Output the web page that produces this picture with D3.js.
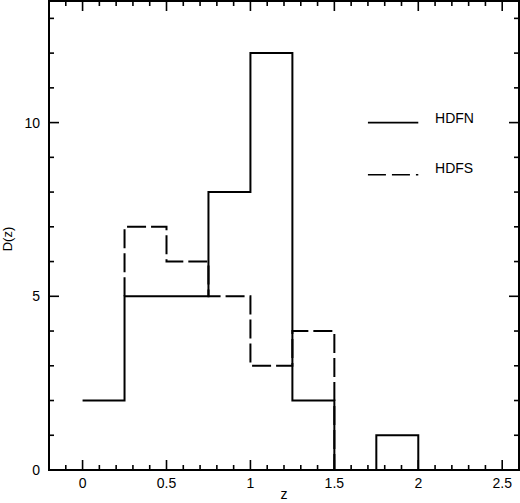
<!DOCTYPE html>
<html><head><meta charset="utf-8">
<script src="https://cdn.jsdelivr.net/npm/d3@7"></script>
<style>html,body{margin:0;padding:0;background:#fff;}svg{display:block;}</style>
</head><body>
<script>
// Data
const binEdges = [0, 0.25, 0.5, 0.75, 1.0, 1.25, 1.5, 1.75, 2.0];
const hdfn = [2, 5, 5, 8, 12, 2, 0, 1];          // bins 0..2
const hdfsEdges = [0.25, 0.5, 0.75, 1.0, 1.25, 1.5];
const hdfs = [7, 6, 5, 3, 4];                      // bins 0.25..1.5
const xTicks = [0, 0.5, 1, 1.5, 2, 2.5];
const yTicks = [0, 5, 10];
const seriesNames = ["HDFN", "HDFS"];

const W = 520, H = 503;
const m = {l: 49, r: 1, t: 1, b: 33};
const svg = d3.select("body").append("svg").attr("width", W).attr("height", H);
const x = d3.scaleLinear().domain([-0.2, 2.6]).range([m.l, W - m.r]);
const y = d3.scaleLinear().domain([0, 13.5]).range([H - m.b, m.t]);
const font = "'Liberation Sans', Arial, Helvetica, sans-serif";

// Step paths
function stepPts(edges, vals, startY, endY) {
  const pts = [];
  pts.push([edges[0], startY]);
  vals.forEach((v, i) => { pts.push([edges[i], v]); pts.push([edges[i + 1], v]); });
  pts.push([edges[edges.length - 1], endY]);
  return pts;
}
const line = d3.line().x(d => x(d[0])).y(d => y(d[1]));

// HDFN starts at its first bin value (no rise from zero)
const nPts = stepPts(binEdges, hdfn, hdfn[0], 0);
svg.append("path").attr("d", line(nPts)).attr("fill", "none")
  .attr("stroke", "#000").attr("stroke-width", 2).attr("stroke-linejoin", "miter");

const sPts = stepPts(hdfsEdges, hdfs, hdfn[1], 0);
svg.append("path").attr("d", line(sPts)).attr("fill", "none")
  .attr("stroke", "#000").attr("stroke-width", 2).attr("stroke-dasharray", "19,5");

// Frame
svg.append("rect").attr("x", x(-0.2)).attr("y", y(13.5))
  .attr("width", x(2.6) - x(-0.2)).attr("height", y(0) - y(13.5))
  .attr("fill", "none").attr("stroke", "#000").attr("stroke-width", 2);

// Ticks (inward, all four sides)
const g = svg.append("g").attr("stroke", "#000").attr("stroke-width", 1.6);
const xMinor = d3.range(-1, 26).map(i => i / 10).filter(v => v > -0.2 && v < 2.6);
xMinor.forEach(v => {
  const major = Math.abs(v * 2 - Math.round(v * 2)) < 1e-6;
  const len = major ? 10 : 5;
  g.append("line").attr("x1", x(v)).attr("x2", x(v)).attr("y1", y(0)).attr("y2", y(0) - len);
  g.append("line").attr("x1", x(v)).attr("x2", x(v)).attr("y1", y(13.5)).attr("y2", y(13.5) + len);
});
d3.range(1, 14).forEach(v => {
  const major = v % 5 === 0;
  const len = major ? 10 : 5;
  g.append("line").attr("x1", x(-0.2)).attr("x2", x(-0.2) + len).attr("y1", y(v)).attr("y2", y(v));
  g.append("line").attr("x1", x(2.6)).attr("x2", x(2.6) - len).attr("y1", y(v)).attr("y2", y(v));
});

// Tick labels
svg.selectAll(".xl").data(xTicks).enter().append("text")
  .attr("x", d => x(d)).attr("y", 488).attr("text-anchor", "middle")
  .attr("font-family", font).attr("font-size", 14).text(d => d3.format("")(d));
svg.selectAll(".yl").data(yTicks).enter().append("text")
  .attr("x", 40).attr("y", d => y(d) + 5).attr("text-anchor", "end")
  .attr("font-family", font).attr("font-size", 14).text(d => d);

// Axis titles
svg.append("text").attr("x", (x(-0.2) + x(2.6)) / 2).attr("y", 499).attr("text-anchor", "middle")
  .attr("font-family", font).attr("font-size", 14).text("z");
svg.append("text").attr("transform", "translate(12,239) rotate(-90)").attr("text-anchor", "middle")
  .attr("font-family", font).attr("font-size", 13).text("D(z)");

// Legend
const legY = [10, 8.5];
svg.append("line").attr("x1", x(1.7)).attr("x2", x(2.0)).attr("y1", y(legY[0])).attr("y2", y(legY[0]))
  .attr("stroke", "#000").attr("stroke-width", 1.6);
svg.append("line").attr("x1", x(1.7)).attr("x2", x(2.0)).attr("y1", y(legY[1])).attr("y2", y(legY[1]))
  .attr("stroke", "#000").attr("stroke-width", 1.6).attr("stroke-dasharray", "18,6");
seriesNames.forEach((n, i) => {
  svg.append("text").attr("x", x(2.1)).attr("y", y(legY[i]) + (i === 0 ? 0 : -2))
    .attr("font-family", font).attr("font-size", 14).text(n);
});
</script>
</body></html>
